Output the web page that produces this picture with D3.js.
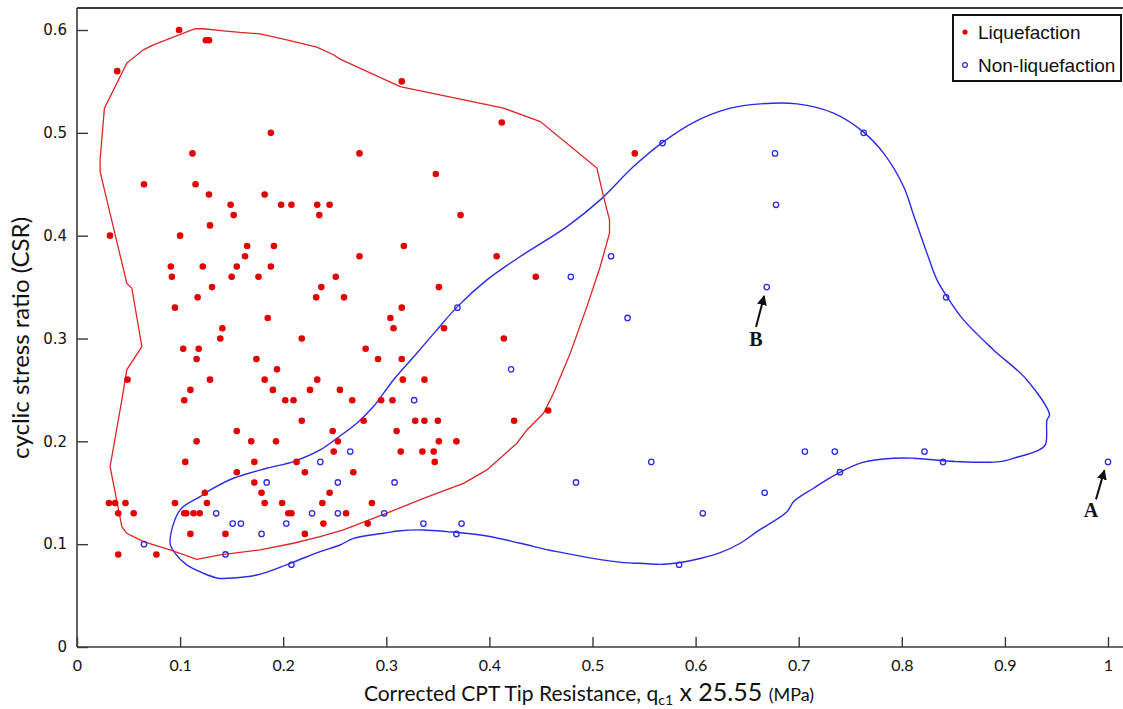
<!DOCTYPE html>
<html>
<head>
<meta charset="utf-8">
<script src="https://cdn.jsdelivr.net/npm/d3@7/dist/d3.min.js"></script>
<style>
  html, body { margin: 0; padding: 0; background: #fff; }
  svg { display: block; }
</style>
</head>
<body>
<svg id="chart" width="1123" height="709"></svg>
<script>
// Liquefaction case records: [q_c1 x 25.55 (MPa), CSR]
const liquefaction = [
  [0.099,0.60],[0.125,0.59],[0.128,0.59],[0.039,0.56],[0.315,0.55],[0.412,0.51],[0.188,0.50],
  [0.112,0.48],[0.274,0.48],[0.541,0.48],[0.348,0.46],[0.065,0.45],[0.115,0.45],
  [0.128,0.44],[0.182,0.44],
  [0.149,0.43],[0.198,0.43],[0.208,0.43],[0.233,0.43],[0.245,0.43],
  [0.152,0.42],[0.235,0.42],[0.372,0.42],[0.129,0.41],[0.032,0.40],[0.100,0.40],
  [0.165,0.39],[0.191,0.39],[0.317,0.39],[0.163,0.38],[0.274,0.38],[0.407,0.38],
  [0.091,0.37],[0.122,0.37],[0.155,0.37],[0.188,0.37],
  [0.092,0.36],[0.150,0.36],[0.176,0.36],[0.251,0.36],[0.445,0.36],
  [0.131,0.35],[0.237,0.35],[0.351,0.35],[0.117,0.34],[0.232,0.34],[0.259,0.34],
  [0.095,0.33],[0.315,0.33],[0.185,0.32],[0.304,0.32],[0.141,0.31],[0.307,0.31],[0.356,0.31],
  [0.139,0.30],[0.218,0.30],[0.414,0.30],[0.103,0.29],[0.118,0.29],[0.280,0.29],
  [0.116,0.28],[0.174,0.28],[0.292,0.28],[0.315,0.28],[0.194,0.27],
  [0.049,0.26],[0.129,0.26],[0.182,0.26],[0.233,0.26],[0.316,0.26],[0.337,0.26],
  [0.110,0.25],[0.190,0.25],[0.226,0.25],[0.255,0.25],
  [0.104,0.24],[0.202,0.24],[0.210,0.24],[0.267,0.24],[0.295,0.24],[0.306,0.24],[0.457,0.23],
  [0.218,0.22],[0.278,0.22],[0.328,0.22],[0.337,0.22],[0.350,0.22],[0.424,0.22],
  [0.155,0.21],[0.248,0.21],[0.310,0.21],
  [0.116,0.20],[0.169,0.20],[0.193,0.20],[0.253,0.20],[0.351,0.20],[0.368,0.20],
  [0.249,0.19],[0.314,0.19],[0.335,0.19],[0.346,0.19],
  [0.105,0.18],[0.172,0.18],[0.213,0.18],[0.347,0.18],[0.155,0.17],[0.221,0.17],[0.268,0.17],
  [0.172,0.16],[0.124,0.15],[0.179,0.15],[0.245,0.15],
  [0.031,0.14],[0.037,0.14],[0.047,0.14],[0.095,0.14],[0.126,0.14],[0.182,0.14],[0.199,0.14],[0.238,0.14],[0.286,0.14],
  [0.040,0.13],[0.055,0.13],[0.104,0.13],[0.106,0.13],[0.113,0.13],[0.119,0.13],[0.205,0.13],[0.208,0.13],[0.261,0.13],
  [0.239,0.12],[0.282,0.12],[0.110,0.11],[0.144,0.11],[0.221,0.11],[0.040,0.09],[0.077,0.09]
];

// Non-liquefaction case records
const nonLiquefaction = [
  [0.065,0.10],[0.135,0.13],[0.151,0.12],[0.159,0.12],[0.184,0.16],[0.179,0.11],[0.144,0.09],
  [0.203,0.12],[0.208,0.08],[0.228,0.13],[0.236,0.18],[0.253,0.16],[0.253,0.13],[0.265,0.19],
  [0.298,0.13],[0.308,0.16],[0.327,0.24],[0.336,0.12],[0.368,0.11],[0.373,0.12],[0.369,0.33],
  [0.421,0.27],[0.479,0.36],[0.484,0.16],[0.518,0.38],[0.534,0.32],[0.557,0.18],[0.568,0.49],
  [0.584,0.08],[0.607,0.13],[0.667,0.15],[0.669,0.35],[0.677,0.48],[0.678,0.43],[0.706,0.19],
  [0.735,0.19],[0.740,0.17],[0.763,0.50],[0.822,0.19],[0.840,0.18],[0.843,0.34],[1.000,0.18]
];

// Envelope enclosing the liquefaction records
const liqBoundary = [
  [0.1146,0.6012],[0.1226,0.6012],[0.142,0.5992],[0.1582,0.5976],[0.1776,0.5963],[0.2035,0.5905],
  [0.2326,0.5834],[0.2487,0.5759],[0.2552,0.5717],[0.3134,0.545],[0.4137,0.524],[0.4493,0.511],
  [0.5043,0.4657],[0.5107,0.438],[0.5165,0.4154],[0.5165,0.4024],[0.5075,0.37],[0.4946,0.331],
  [0.4784,0.2857],[0.4622,0.2468],[0.4525,0.2273],[0.4364,0.2111],[0.4267,0.1982],[0.3976,0.1722],
  [0.3749,0.1592],[0.3361,0.1446],[0.3005,0.1301],[0.2584,0.1138],[0.2358,0.1073],[0.2099,0.1009],
  [0.1776,0.0944],[0.1388,0.0895],[0.1162,0.0853],[0.0903,0.0944],[0.0644,0.1024],[0.0483,0.1106],
  [0.0435,0.117],[0.0321,0.1754],[0.0435,0.2403],[0.0483,0.2695],[0.0629,0.2921],[0.0532,0.3489],
  [0.0483,0.3538],[0.0289,0.4348],[0.0224,0.4624],[0.0224,0.4737],[0.0266,0.524],[0.0483,0.5678],
  [0.0644,0.5807],[0.0741,0.5856]
];

// Envelope enclosing the non-liquefaction records
const nonLiqBoundary = [
  [0.0903,0.1009],[0.1000,0.1333],[0.1194,0.1462],[0.1323,0.1544],[0.1517,0.1641],[0.1841,0.1738],
  [0.2099,0.1803],[0.2358,0.1916],[0.2520,0.2030],[0.2714,0.2176],[0.2875,0.2338],[0.3069,0.2597],
  [0.3296,0.2857],[0.3491,0.3084],[0.3690,0.3310],[0.3976,0.3570],[0.4299,0.3797],[0.4752,0.4088],
  [0.5075,0.4348],[0.5398,0.4672],[0.5683,0.4910],[0.5996,0.5110],[0.6336,0.5240],[0.6627,0.5282],
  [0.6983,0.5282],[0.7338,0.5192],[0.7629,0.5007],[0.7823,0.4802],[0.8017,0.4478],[0.8114,0.4202],
  [0.8244,0.3830],[0.8341,0.3570],[0.8438,0.3408],[0.8599,0.3181],[0.8890,0.2889],[0.9214,0.2597],
  [0.9433,0.2257],[0.9408,0.2208],[0.9392,0.1965],[0.9311,0.1907],[0.9117,0.1845],[0.8955,0.1803],
  [0.8535,0.1803],[0.8114,0.1836],[0.7920,0.1836],[0.7613,0.1793],[0.7371,0.1683],[0.7144,0.1544],
  [0.6950,0.1413],[0.6886,0.1316],[0.6595,0.1122],[0.6433,0.1009],[0.6239,0.0917],[0.5980,0.0846],
  [0.5689,0.0804],[0.5463,0.0814],[0.5301,0.0820],[0.4655,0.0927],[0.4299,0.1009],[0.3976,0.1080],
  [0.3588,0.1122],[0.3361,0.1138],[0.3134,0.1131],[0.2972,0.1106],[0.2681,0.1057],[0.2552,0.0992],
  [0.2358,0.0927],[0.2067,0.0814],[0.1744,0.0700],[0.1453,0.0668],[0.1372,0.0668],[0.1226,0.0717],
  [0.1065,0.0798],[0.0952,0.0911]
];

// Labelled cases
const callouts = [
  { label: "B", point: [0.669, 0.35] },
  { label: "A", point: [1.000, 0.18] }
];

const xTicks = [0,0.1,0.2,0.3,0.4,0.5,0.6,0.7,0.8,0.9,1];
const yTicks = [0,0.1,0.2,0.3,0.4,0.5,0.6];
const xTickLabels = ["0","0.1","0.2","0.3","0.4","0.5","0.6","0.7","0.8","0.9","1"];
const yTickLabels = ["0","0.1","0.2","0.3","0.4","0.5","0.6"];

const legendItems = [
  { name: "Liquefaction", kind: "liq" },
  { name: "Non-liquefaction", kind: "non" }
];

const RED = "#e40000";
const RED_LINE = "#dc2626";
const BLUE = "#2b2be6";

const svg = d3.select("#chart");
const W = 1123, H = 709;
const plotL = 77, plotR = 1108, plotT = 8, plotB = 647;

const x = d3.scaleLinear().domain([0, 1]).range([plotL, plotR]);
const y = d3.scaleLinear().domain([0, 0.6]).range([plotB, 30]);

svg.append("rect").attr("width", W).attr("height", H).attr("fill", "#fff");

// Envelopes
svg.append("path")
  .datum(nonLiqBoundary)
  .attr("d", d3.line().x(d => x(d[0])).y(d => y(d[1])).curve(d3.curveCatmullRomClosed.alpha(0.5)))
  .attr("fill", "none").attr("stroke", BLUE).attr("stroke-width", 1.4);
svg.append("path")
  .datum(liqBoundary)
  .attr("d", d3.line().x(d => x(d[0])).y(d => y(d[1])).curve(d3.curveLinearClosed))
  .attr("fill", "none").attr("stroke", RED_LINE).attr("stroke-width", 1.3);

// Points
svg.append("g").selectAll("circle").data(liquefaction).join("circle")
  .attr("cx", d => x(d[0])).attr("cy", d => y(d[1])).attr("r", 3.3)
  .attr("fill", RED);
svg.append("g").selectAll("circle").data(nonLiquefaction).join("circle")
  .attr("cx", d => x(d[0])).attr("cy", d => y(d[1])).attr("r", 2.7)
  .attr("fill", "none").attr("stroke", BLUE).attr("stroke-width", 1.3);

// Frame: top border line, left and bottom axes
const AX = "#3a3a3a";
svg.append("line").attr("x1", plotL).attr("x2", W).attr("y1", plotT).attr("y2", plotT)
  .attr("stroke", AX).attr("stroke-width", 2);

const xAxis = d3.axisBottom(x).tickValues(xTicks)
  .tickFormat((d, i) => xTickLabels[i]).tickSizeInner(-10).tickSizeOuter(0).tickPadding(8);
const gx = svg.append("g").attr("transform", `translate(0,${plotB})`).call(xAxis);
gx.select(".domain").attr("d", `M${plotL},0H${W}`).attr("stroke", AX).attr("stroke-width", 1.6);
gx.selectAll(".tick line").attr("stroke", AX).attr("stroke-width", 1.4);
gx.selectAll(".tick text")
  .attr("y", 24).attr("dy", null)
  .attr("fill", "#111").style("font-family", "Lato, 'Liberation Sans', sans-serif").style("font-size", "16px");

const yAxis = d3.axisLeft(y).tickValues(yTicks)
  .tickFormat((d, i) => yTickLabels[i]).tickSizeInner(-11).tickSizeOuter(0).tickPadding(10);
const gy = svg.append("g").attr("transform", `translate(${plotL},0)`).call(yAxis);
gy.select(".domain").attr("d", `M0,${plotT}V${plotB}`).attr("stroke", AX).attr("stroke-width", 1.6);
gy.selectAll(".tick line").attr("stroke", AX).attr("stroke-width", 1.4);
gy.selectAll(".tick text")
  .attr("fill", "#111").style("font-family", "'DejaVu Sans', Verdana, sans-serif").style("font-size", "15px");

// Axis titles
const xt = svg.append("text")
  .attr("x", 589).attr("y", 701).attr("text-anchor", "middle")
  .attr("fill", "#111").style("font-family", "Lato, 'Liberation Sans', sans-serif");
xt.append("tspan").style("font-size", "21px").text("Corrected CPT Tip Resistance, q");
xt.append("tspan").style("font-size", "14px").attr("dy", 4).text("c1");
xt.append("tspan").style("font-size", "25px").attr("dy", -4).text(" x 25.55 ");
xt.append("tspan").style("font-size", "18px").text("(MPa)");

svg.append("text")
  .attr("transform", `translate(29,338) rotate(-90)`)
  .attr("text-anchor", "middle")
  .attr("fill", "#111").style("font-family", "Lato, 'Liberation Sans', sans-serif").style("font-size", "24px")
  .text("cyclic stress ratio (CSR)");

// Callout arrows for labelled cases
const defs = svg.append("defs");
defs.append("marker").attr("id", "head").attr("viewBox", "0 0 10 10")
  .attr("refX", 9).attr("refY", 5).attr("markerWidth", 5).attr("markerHeight", 5)
  .attr("orient", "auto").attr("markerUnits", "strokeWidth")
  .append("path").attr("d", "M0,0L10,5L0,10z").attr("fill", "#111");

const arrowGeom = { B: { tail: [-10.7, 40], tip: [-2.6, 9], text: [-10.7, 51.5] },
                    A: { tail: [-12, 37.5], tip: [-3.6, 8.5], text: [-17, 48.5] } };
callouts.forEach(c => {
  const px = x(c.point[0]), py = y(c.point[1]);
  const g = arrowGeom[c.label];
  svg.append("line")
    .attr("x1", px + g.tail[0]).attr("y1", py + g.tail[1])
    .attr("x2", px + g.tip[0]).attr("y2", py + g.tip[1])
    .attr("stroke", "#111").attr("stroke-width", 2).attr("marker-end", "url(#head)");
  svg.append("text")
    .attr("x", px + g.text[0]).attr("y", py + g.text[1]).attr("dy", "0.35em")
    .attr("text-anchor", "middle").attr("fill", "#111")
    .style("font-family", "'Liberation Serif', 'Times New Roman', serif")
    .style("font-size", "20px").style("font-weight", "bold")
    .text(c.label);
});

// Legend
const lg = svg.append("g");
lg.append("rect").attr("x", 953).attr("y", 15).attr("width", 168).attr("height", 66)
  .attr("fill", "#fff").attr("stroke", "#111").attr("stroke-width", 2);
legendItems.forEach((it, i) => {
  const cy = 32 + i * 33;
  if (it.kind === "liq") {
    lg.append("circle").attr("cx", 965).attr("cy", cy).attr("r", 2.6).attr("fill", RED);
  } else {
    lg.append("circle").attr("cx", 965).attr("cy", cy).attr("r", 2.4)
      .attr("fill", "none").attr("stroke", BLUE).attr("stroke-width", 1.2);
  }
  lg.append("text").attr("x", 978).attr("y", cy).attr("dy", "0.35em")
    .attr("fill", "#111").style("font-family", "'Liberation Sans', Arial, sans-serif").style("font-size", "19px")
    .text(it.name);
});
</script>
</body>
</html>
